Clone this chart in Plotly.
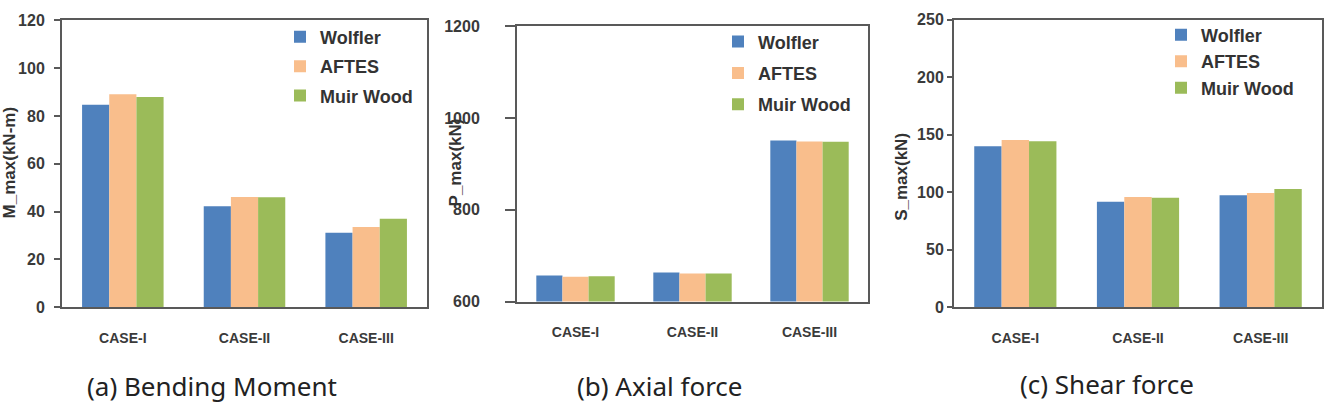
import plotly.graph_objects as go

W, H = 1329, 417

cases = ["CASE-I", "CASE-II", "CASE-III"]
series_names = ["Wolfler", "AFTES", "Muir Wood"]
colors = ["#4F81BD", "#F9BE8C", "#9BBB59"]

# (a) Bending moment M_max (kN-m)
moment_wolfler = [84.7, 42.3, 31.2]
moment_aftes = [89.1, 46.1, 33.6]
moment_muir = [88.0, 46.0, 37.0]

# (b) Axial force P_max (kN)
axial_wolfler = [657, 663, 951]
axial_aftes = [654, 661, 949]
axial_muir = [655, 661, 948]

# (c) Shear force S_max (kN)
shear_wolfler = [140.0, 91.6, 97.4]
shear_aftes = [145.3, 95.7, 99.3]
shear_muir = [144.2, 95.2, 102.7]

panels = [
    dict(vals=[moment_wolfler, moment_aftes, moment_muir], rng=[0, 120], dtick=20,
         px=(62, 427), py=(13, 312), ytitle="M_max(kN-m)", ytx=9, yty=162,
         caption="(a) Bending Moment", cx=212, cy=394, leg=(280, 11), gap=3, ticklen=6, stand=6),
    dict(vals=[axial_wolfler, axial_aftes, axial_muir], rng=[600, 1200], dtick=200,
         px=(517, 868), py=(19, 306), ytitle="P_max(kN)", ytx=455, yty=161,
         caption="(b) Axial force", cx=660, cy=394, leg=(718, 16), gap=5, ticklen=10, stand=22),
    dict(vals=[shear_wolfler, shear_aftes, shear_muir], rng=[0, 250], dtick=50,
         px=(954, 1322), py=(12, 312), ytitle="S_max(kN)", ytx=902, yty=176,
         caption="(c) Shear force", cx=1107, cy=392, leg=(1161, 9), gap=0, ticklen=5, stand=0),
]

fig = go.Figure()
layout = dict(width=W, height=H, margin=dict(l=0, r=0, t=0, b=0),
              paper_bgcolor="white", plot_bgcolor="white", barmode="group",
              bargap=0.33, bargroupgap=0, showlegend=True, annotations=[])

tickfont_y = dict(family="Liberation Sans, Arial, sans-serif", size=16, color="#3a3a3a", weight="bold")
tickfont_x = dict(family="Liberation Sans, Arial, sans-serif", size=14, color="#3a3a3a", weight="bold")

for i, p in enumerate(panels, start=1):
    xa = "x" if i == 1 else f"x{i}"
    ya = "y" if i == 1 else f"y{i}"
    lg = "legend" if i == 1 else f"legend{i}"
    for name, col, vals in zip(series_names, colors, p["vals"]):
        fig.add_trace(go.Bar(x=cases, y=vals, name=name, marker=dict(color=col, line=dict(width=0)),
                             xaxis=xa, yaxis=ya, legend=lg, legendgroup=f"{lg}-{name}"))
    x0, x1 = p["px"]
    y0, y1 = p["py"]
    layout[f"xaxis{'' if i == 1 else i}"] = dict(
        domain=[x0 / W, x1 / W], anchor=ya, showline=True, linecolor="#595959", linewidth=2,
        mirror=True, ticks="", tickfont=tickfont_x, ticklabelstandoff=17, showgrid=False, zeroline=False)
    layout[f"yaxis{'' if i == 1 else i}"] = dict(
        domain=[1 - y1 / H, 1 - y0 / H], anchor=xa, range=p["rng"], dtick=p["dtick"],
        showline=True, linecolor="#595959", linewidth=2, mirror=True, ticks="outside",
        ticklen=p["ticklen"], tickcolor="#595959", tickwidth=1.5, tickfont=tickfont_y,
        ticklabelstandoff=p["stand"], showgrid=False, zeroline=False)
    lx, ly = p["leg"]
    layout[lg] = dict(x=lx / W, y=1 - ly / H, xanchor="left", yanchor="top",
                      bgcolor="rgba(0,0,0,0)", traceorder="grouped", tracegroupgap=p["gap"],
                      font=dict(family="Liberation Sans, Arial, sans-serif", size=18,
                                color="#333333", weight="bold"))
    layout["annotations"].append(dict(
        text=p["ytitle"], x=p["ytx"] / W, y=1 - p["yty"] / H, xref="paper", yref="paper",
        textangle=-90, showarrow=False, xanchor="center", yanchor="middle",
        font=dict(family="Liberation Sans, Arial, sans-serif", size=17, color="#333333", weight="bold")))
    layout["annotations"].append(dict(
        text=p["caption"], x=p["cx"] / W, y=1 - p["cy"] / H, xref="paper", yref="paper",
        showarrow=False, xanchor="center", yanchor="middle",
        font=dict(family="Noto Sans, sans-serif", size=26, color="#222222")))

fig.update_layout(**layout)
fig.write_html("out.html")
